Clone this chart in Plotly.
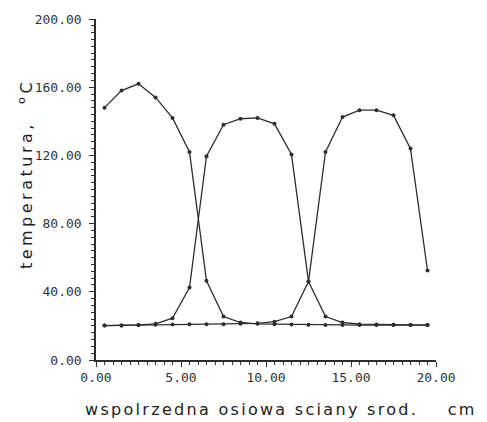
import plotly.graph_objects as go

x_pos = [0.5 + i for i in range(20)]

temp_a = [148, 158, 162, 154, 142, 122, 46.5, 25.5, 22, 21.2, 21, 20.8, 20.7, 20.6, 20.6, 20.5, 20.5, 20.5, 20.5, 20.5]
temp_b = [20.2, 20.3, 20.6, 21.2, 24.5, 42.5, 119.5, 138, 141.5, 142, 138.5, 120.5, 46, 25.5, 22, 21, 20.8, 20.7, 20.6, 20.5]
temp_c = [20.2, 20.3, 20.5, 20.7, 20.8, 20.9, 21, 21, 21.2, 21.5, 22.5, 25.5, 46, 122, 142.5, 146.5, 146.5, 143.5, 124, 52.5]

y_ticks = [0, 40, 80, 120, 160, 200]
y_tick_text = ["0.00", "40.00", "80.00", "120.00", "160.00", "200.00"]
x_ticks = [0, 5, 10, 15, 20]
x_tick_text = ["0.00", "5.00", "10.00", "15.00", "20.00"]

x_title = "wspolrzedna osiowa sciany srod.\u00a0\u00a0\u00a0\u00a0cm"
y_title = "temperatura,\u00a0\u00a0<sup>o</sup>C"

line_color = "#2e2e2e"
fig = go.Figure()
for series in (temp_a, temp_b, temp_c):
    fig.add_trace(go.Scatter(
        x=x_pos, y=series, mode="lines+markers",
        line=dict(color=line_color, width=1.3),
        marker=dict(color=line_color, size=4),
        showlegend=False, hoverinfo="skip",
    ))

tick_font = dict(family="DejaVu Sans Mono", size=13, color="#333333")
fig.update_layout(
    width=487, height=422,
    margin=dict(l=96, r=51, t=17, b=62),
    paper_bgcolor="white", plot_bgcolor="white",
    xaxis=dict(
        range=[0, 20], tickvals=x_ticks, ticktext=x_tick_text,
        showgrid=False, zeroline=False, showline=True, linecolor=line_color, linewidth=1.5,
        ticks="outside", ticklen=5, tickwidth=1.2, tickcolor=line_color,
        minor=dict(ticks="outside", ticklen=3, dtick=0.5, tickcolor=line_color, tickwidth=1),
        tickfont=tick_font,
    ),
    yaxis=dict(
        range=[0, 200], tickvals=y_ticks, ticktext=y_tick_text,
        showgrid=False, zeroline=False, showline=True, linecolor=line_color, linewidth=1.5,
        ticks="outside", ticklen=5, tickwidth=1.2, tickcolor=line_color,
        minor=dict(ticks="outside", ticklen=3, dtick=4, tickcolor=line_color, tickwidth=1),
        tickfont=tick_font, ticklabelstandoff=5,
    ),
    annotations=[
        dict(text='<span style="letter-spacing:2.3px">' + x_title + '</span>',
             xref="paper", yref="paper", x=(281 - 96) / 340, y=-(410 - 360) / 343,
             showarrow=False, xanchor="center", yanchor="middle",
             font=dict(family="DejaVu Sans", size=16, color="#222222")),
        dict(text='<span style="letter-spacing:3.5px">' + y_title + '</span>',
             xref="paper", yref="paper", x=-(96 - 25) / 340, y=(360 - 173) / 343,
             showarrow=False, xanchor="center", yanchor="middle", textangle=-90,
             font=dict(family="DejaVu Sans", size=16, color="#222222")),
    ],
)

# remove the default 8px page margin so the figure sits at the window's top-left corner
fig.write_html("out.html", config={"displayModeBar": False},
               post_script="document.body.style.margin='0';")
